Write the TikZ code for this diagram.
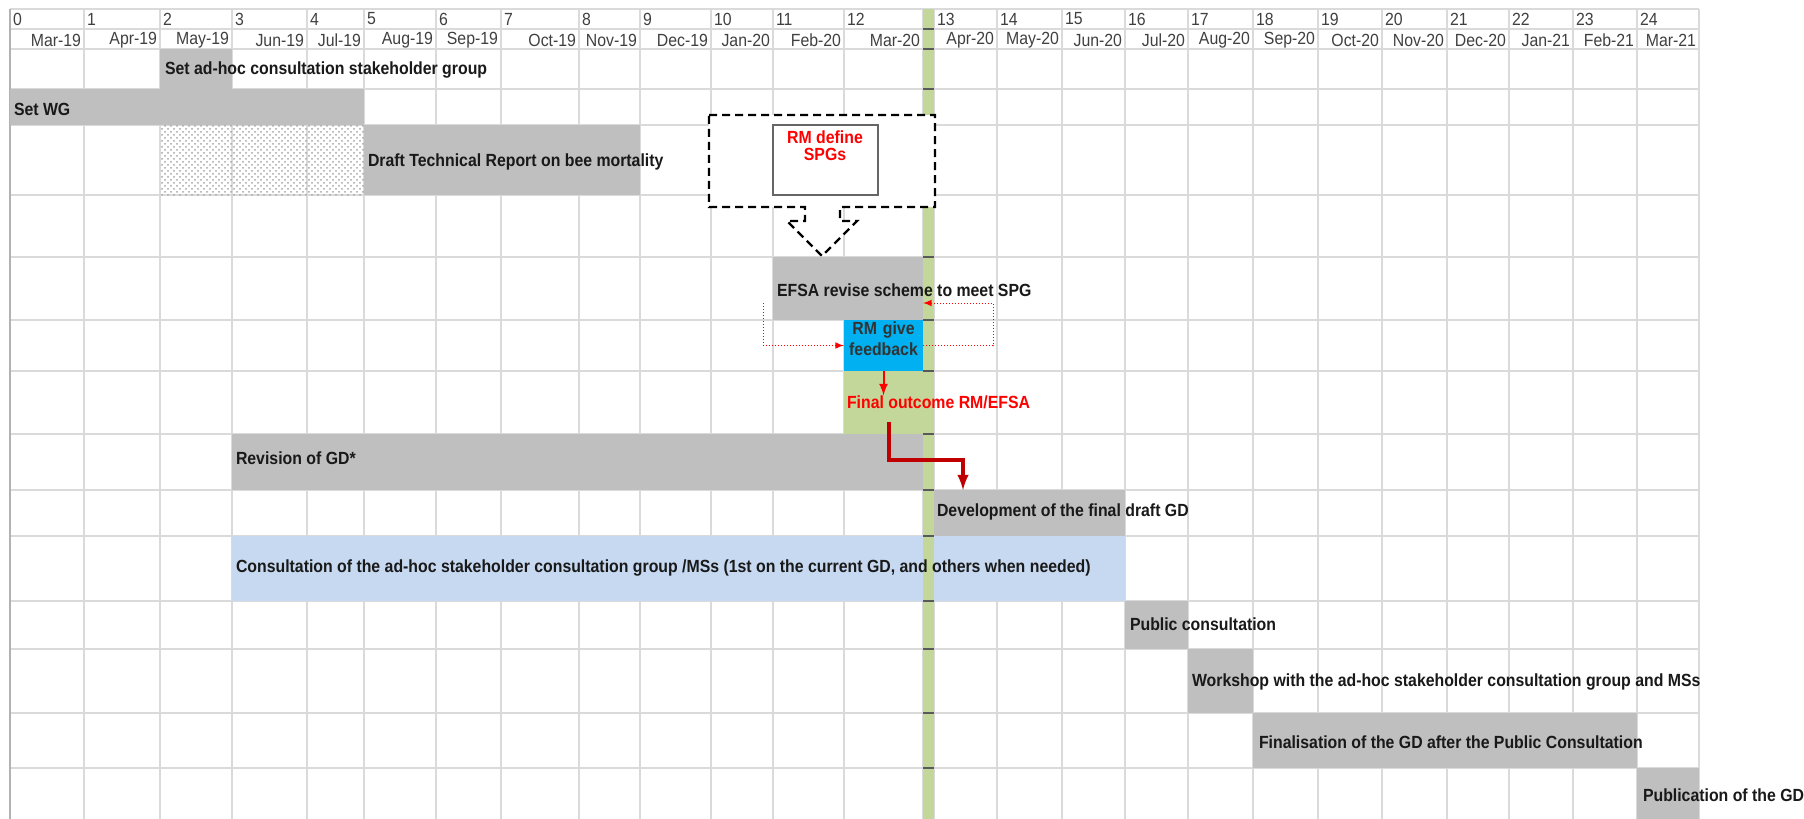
\documentclass[tikz,border=0pt]{standalone}
\usepackage{fontspec}
\setmainfont{Liberation Sans}[FakeStretch=0.9]
\usepackage{tikz}
\usetikzlibrary{fit,patterns}
\definecolor{barGray}{RGB}{191,191,191}
\definecolor{gridGray}{RGB}{218,218,218}
\definecolor{cellBlue}{RGB}{0,176,240}
\definecolor{paleBlue}{RGB}{198,217,241}
\definecolor{oliveGreen}{RGB}{196,215,155}
\definecolor{darkRed}{RGB}{192,0,0}
\tikzstyle{every node}=[inner sep=0pt,outer sep=0pt]
\tikzstyle{bar}=[fill=barGray]
\tikzstyle{task}=[anchor=west,font=\fontsize{8.8}{10.5}\selectfont\bfseries,text=black!90]
\tikzstyle{head}=[font=\fontsize{8.8}{10.5}\selectfont,text=black!75]
\tikzstyle{gridline}=[gridGray,line width=0.75pt]
\tikzstyle{feedback}=[red,densely dotted,line width=0.5pt,->]
\tikzstyle{outcome}=[darkRed,line width=1.6pt,->]

\begin{document}
\begin{tikzpicture}[x=0.5pt,y=-0.5pt,>=latex]
	\useasboundingbox[fill=white](0,0) rectangle (1804,819);

	\foreach \x in {10,84,160,232,307,364,436,501,579,640,711,773,844,923,934,997,1062,1125,1188,1253,1318,1382,1447,1509,1573,1637,1699}
		\draw[gridline] (\x,9) -- (\x,819);
	\foreach \y in {9,29,49,89,125,195,257,320,371,434,490,536,601,649,713,768}
		\draw[gridline] (10,\y) -- (1699,\y);
	\draw[black!30,line width=0.75pt] (10,9) -- (10,819);

	\foreach \n/\a/\b/\m in {0/10/84/Mar-19,1/84/160/Apr-19,2/160/232/May-19,3/232/307/Jun-19,4/307/364/Jul-19,5/364/436/Aug-19,6/436/501/Sep-19,7/501/579/Oct-19,8/579/640/Nov-19,9/640/711/Dec-19,10/711/773/Jan-20,11/773/844/Feb-20,12/844/923/Mar-20,13/934/997/Apr-20,14/997/1062/May-20,15/1062/1125/Jun-20,16/1125/1188/Jul-20,17/1188/1253/Aug-20,18/1253/1318/Sep-20,19/1318/1382/Oct-20,20/1382/1447/Nov-20,21/1447/1509/Dec-20,22/1509/1573/Jan-21,23/1573/1637/Feb-21,24/1637/1699/Mar-21}{
		\node(n\n)[head,anchor=west] at (\a+3,19) {\n};
		\node(m\n)[head,anchor=east] at (\b-3,40) {\m};
	}

	\node(adhoc)[bar,fit={(160,49) (232,89)}]{};
	\node(wg)[bar,fit={(10,89) (364,125)}]{};
	\node(prep)[pattern=crosshatch dots,pattern color=black!35,fit={(160,125) (364,195)}]{};
	\node(draft)[bar,fit={(364,125) (640,195)}]{};
	\node(efsa)[bar,fit={(773,257) (923,320)}]{};
	\node(rmgive)[fill=cellBlue,fit={(844,320) (923,371)},align=center,font=\fontsize{8.8}{10.5}\selectfont\bfseries,text=black!80]{RM give\\feedback};
	\node(final)[fill=oliveGreen,fit={(844,371) (923,434)}]{};
	\node(revision)[bar,fit={(232,434) (923,490)}]{};
	\node(dev)[bar,fit={(934,490) (1125,536)}]{};
	\node(consult)[fill=paleBlue,fit={(232,536) (1125,601)}]{};
	\node(public)[bar,fit={(1125,601) (1188,649)}]{};
	\node(workshop)[bar,fit={(1188,649) (1253,713)}]{};
	\node(finalise)[bar,fit={(1253,713) (1637,768)}]{};
	\node(publish)[bar,fit={(1637,768) (1699,819)}]{};

	\fill[oliveGreen] (923,9) rectangle (934,819);
	\foreach \y in {29,49,89,125,195,257,320,371,434,490,536,601,649,713,768}
		\draw[black!65,line width=0.75pt] (923,\y) -- (934,\y);

	\node(spg)[fit={(709,115) (935,207)}]{};
	\draw[fill=white,line width=1.2pt,dash pattern=on 4pt off 2.5pt] (spg.north west) -- (spg.north east) -- (spg.south east) -- (840,207) -- (840,221) -- (857,221) -- (822,256) -- (787,221) -- (805,221) -- (805,207) -- (spg.south west) -- cycle;
	\node(rmdef)[draw=black!60,fill=white,line width=0.6pt,fit={(773,125) (878,195)}]{};
	\node(rmdefL)[task,anchor=center,align=center,text=red,font=\fontsize{8.8}{8.5}\selectfont\bfseries] at (825,146) {RM define\\SPGs};

	\node(adhocL)[task] at (165,70) {Set ad-hoc consultation stakeholder group};
	\node(wgL)[task] at (14,109) {Set WG};
	\node(draftL)[task] at (368,162) {Draft Technical Report on bee mortality};
	\node(efsaL)[task] at (777,290) {EFSA revise scheme to meet SPG};
	\node(finalL)[task,text=red] at (847,402) {Final outcome RM/EFSA};
	\node(revisionL)[task] at (236,458) {Revision of GD*};
	\node(devL)[task] at (937,512) {Development of the final draft GD};
	\node(consultL)[task] at (236,568) {Consultation of the ad-hoc stakeholder consultation group /MSs (1st on the current GD, and others when needed)};
	\node(publicL)[task] at (1130,624) {Public consultation};
	\node(workshopL)[task] at (1192,682) {Workshop with the ad-hoc stakeholder consultation group and MSs};
	\node(finaliseL)[task] at (1259,742) {Finalisation of the GD after the Public Consultation};
	\node(publishL)[task] at (1643,795) {Publication of the GD};

	\coordinate(fbL) at (763,303);
	\coordinate(fbR) at (993,303);
	\coordinate(outA) at (889,422);
	\coordinate(outB) at (963,460);
	\draw[feedback] (fbL) |- (rmgive.west);
	\draw[feedback] (rmgive.east) -| (fbR) -- (efsa.east |- fbR);
	\draw[red,line width=1pt,->] (rmgive.south) -- (rmgive.south |- finalL.north);
	\draw[outcome] (outA) |- (outB) -- (outB |- dev.north);
\end{tikzpicture}
\end{document}
